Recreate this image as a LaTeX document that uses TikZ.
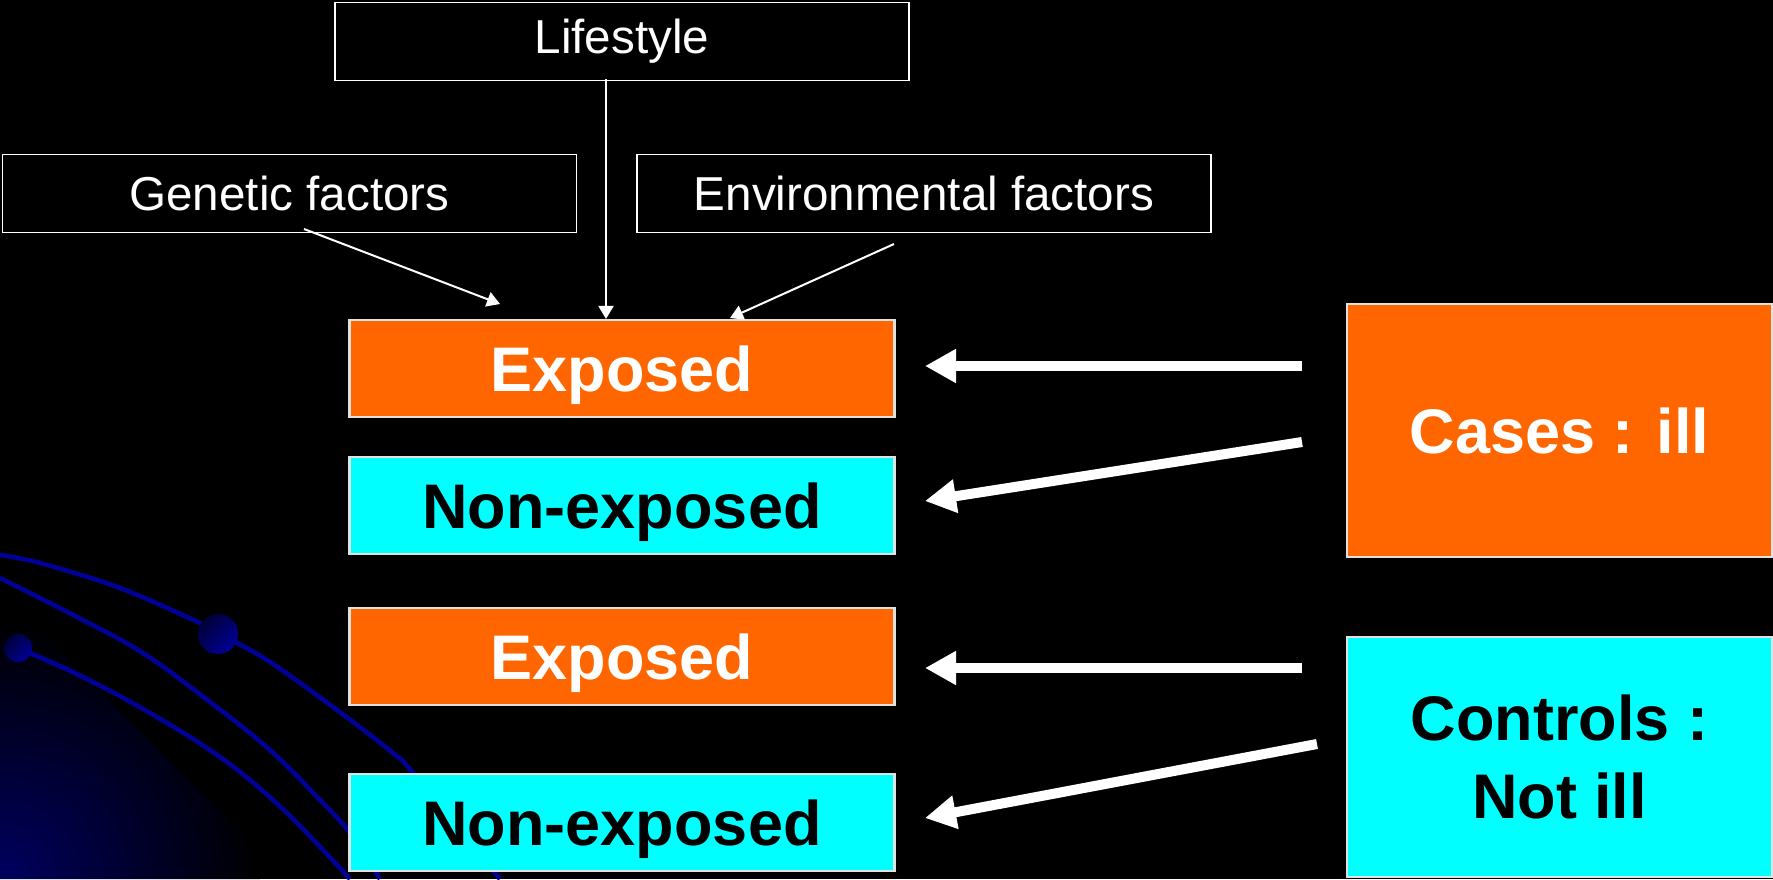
\documentclass[tikz,border=0pt]{standalone}
\usepackage{fontspec}
\setmainfont{Liberation Sans}
\usetikzlibrary{arrows.meta,calc}
\definecolor{exporange}{RGB}{255,102,0}
\definecolor{nonexpcyan}{RGB}{0,255,255}
\definecolor{decoblue}{RGB}{0,0,150}
\definecolor{balldark}{RGB}{0,0,55}
\definecolor{ballbright}{RGB}{0,0,150}
\definecolor{glowblue}{RGB}{0,0,95}
\definecolor{boxline}{RGB}{225,225,225}
\begin{document}
\begin{tikzpicture}[x=0.5pt,y=-0.5pt,
  factorbox/.style={draw=white,line width=0.8pt,fill=black,text=white,inner sep=0pt,
    minimum width=287pt,minimum height=39pt,font=\fontsize{23.8}{28}\selectfont},
  groupbox/.style={draw=boxline,line width=1.1pt,inner sep=0pt,minimum width=272.5pt,
    minimum height=48.5pt,text height=22.5pt,text depth=0pt,
    font=\fontsize{31.5}{39}\selectfont\bfseries},
  expbox/.style={groupbox,fill=exporange,text=white},
  nonexpbox/.style={groupbox,fill=nonexpcyan,text=black},
  sidebox/.style={draw=boxline,line width=1.1pt,inner sep=0pt,minimum width=212.5pt,
    align=center,font=\fontsize{31.5}{39}\selectfont\bfseries},
  thinarrow/.style={draw=white,line width=1pt,-{Triangle[length=6.5pt,width=7.5pt]}},
  thickarrow/.style={draw=white,line width=5pt,-{Triangle[length=15.5pt,width=16pt]}},
  decoline/.style={draw=decoblue,line width=2.3pt},
  decoball/.style={top color=balldark,bottom color=ballbright,shading angle=45}
]
\useasboundingbox (0,0) rectangle (1773,879);
\fill[black] (0,0) rectangle (1773,879);
% background glow bottom-left
\begin{scope}
  \clip (0,593) .. controls (100,690) and (200,790) .. (287,879) -- (0,879) -- cycle;
  \shade[inner color=glowblue,outer color=black] (0,879) circle[radius=130pt];
\end{scope}
% decorative curves
\draw[decoline] plot[smooth,tension=0.6] coordinates {(0,555) (40,563) (120,588) (200,623) (218,633) (267,660) (333,707) (393,753) (413,773) (500,879)};
\draw[decoline] plot[smooth,tension=0.6] coordinates {(0,578) (77,617) (143,653) (210,702) (270,750) (323,803) (350,833) (380,879)};
\draw[decoline] plot[smooth,tension=0.6] coordinates {(18,648) (83,677) (157,717) (227,762) (287,813) (350,879)};
\shade[decoball] (218,634) circle[radius=10pt];
\shade[decoball] (18,648) circle[radius=7pt];
% factor boxes
\node[factorbox] (life) at (622,41.5) {Lifestyle};
\node[factorbox] (gen) at (289.5,193.5) {Genetic factors};
\node[factorbox] (env) at (924,193.5) {Environmental factors};
% exposure boxes
\node[expbox] (exp1) at (622,368.5) {Exposed};
\node[nonexpbox] (non1) at (622,505.5) {Non-exposed};
\node[expbox] (exp2) at (622,656.5) {Exposed};
\node[nonexpbox] (non2) at (622,822.5) {Non-exposed};
% cases / controls
\node[sidebox,fill=exporange,text=white,minimum height=126.5pt] (cases) at (1559.5,430.5) {Cases : ill};
\node[sidebox,fill=nonexpcyan,text=black,minimum height=120pt] (ctrl) at (1559.5,757) {Controls :\\Not ill};
% thin arrows
\coordinate (gs) at (304,229);
\coordinate (gt) at (500,304);
\coordinate (ls) at (606,79);
\coordinate (es) at (894,244);
\coordinate (et) at (730,318);
\draw[thinarrow] (gs) -- (gt);
\draw[thinarrow] (ls) -- (ls |- exp1.north);
\draw[thinarrow] (es) -- (et);
% thick arrows
\coordinate (c1) at (1302,366);
\coordinate (t1) at (925,366);
\coordinate (c2) at (1302,442);
\coordinate (t2) at (925,501);
\coordinate (c3) at (1302,668);
\coordinate (t3) at (925,668);
\coordinate (c4) at (1317,744);
\coordinate (t4) at (925,818);
\draw[thickarrow] (c1) -- (t1);
\draw[thickarrow] (c2) -- (t2);
\draw[thickarrow] (c3) -- (t3);
\draw[thickarrow] (c4) -- (t4);
\end{tikzpicture}
\end{document}
